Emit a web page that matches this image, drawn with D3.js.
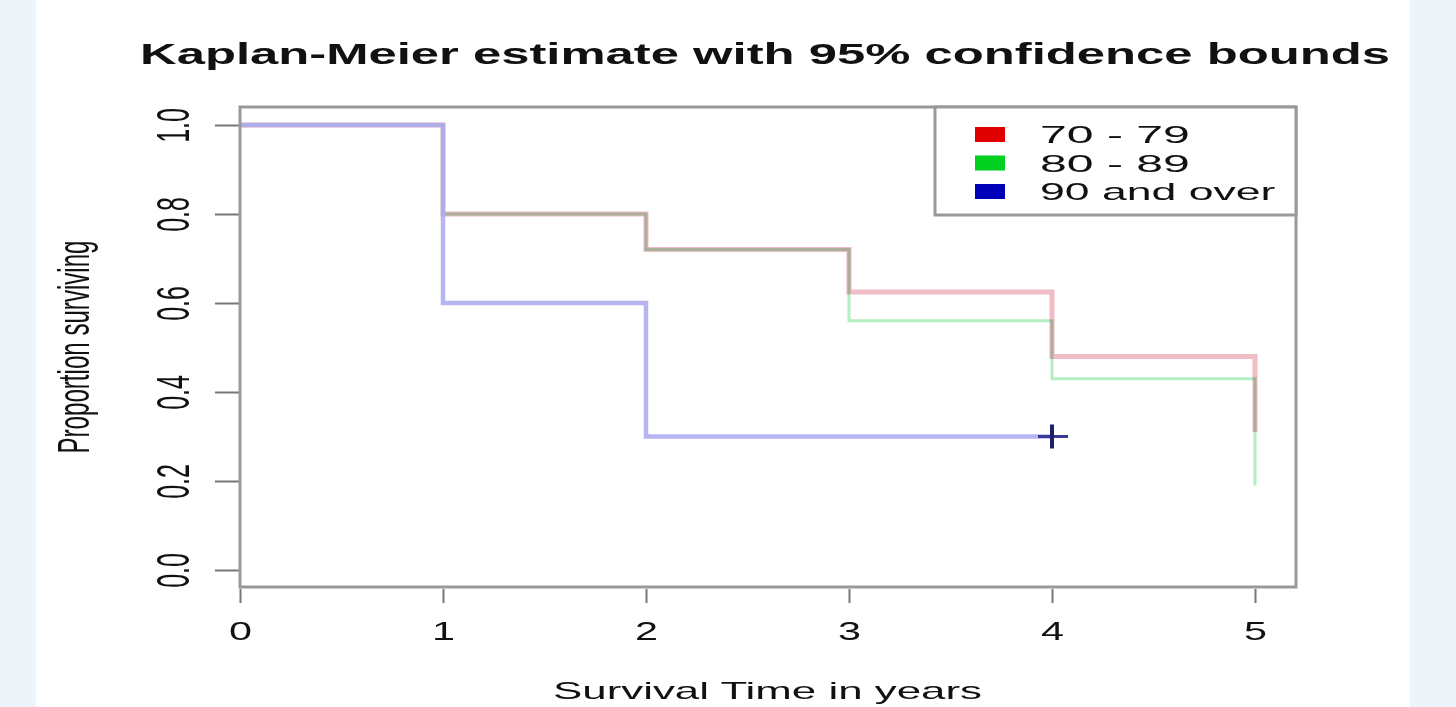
<!DOCTYPE html>
<html>
<head>
<meta charset="utf-8">
<script src="https://cdn.jsdelivr.net/npm/d3@7"></script>
<style>
  html, body { margin: 0; padding: 0; background: #eef5fa; }
  svg { display: block; font-family: "Liberation Sans", Arial, sans-serif; }
  .pair { isolation: isolate; }
  .pair path { mix-blend-mode: multiply; }
</style>
</head>
<body>
<div id="chart"></div>
<script>
// survival data
const groups = ["70 - 79", "80 - 89", "90 and over"]
const groupColors = ["#e00000", "#00d020", "#0000b8"]
const times7079 = [0, 1, 2, 3, 4, 5]
const surv7079 = [1.0, 0.8, 0.72, 0.625, 0.48, 0.31]
const times8089 = [0, 1, 2, 3, 4, 5]
const surv8089 = [1.0, 0.8, 0.72, 0.56, 0.43, 0.19]
const times90 = [0, 1, 2, 4]
const surv90 = [1.0, 0.6, 0.3, 0.3]
const censor90 = [[4, 0.3]]
const xTicks = [0, 1, 2, 3, 4, 5]
const yTicks = [0, 0.2, 0.4, 0.6, 0.8, 1.0]

const width = 1456, height = 707
const box = { left: 240, right: 1296, top: 107, bottom: 587 }
const stretch = 1.85   // the picture is stretched sideways

const svg = d3.select("#chart").append("svg")
  .attr("width", width)
  .attr("height", height)

svg.append("rect")
  .attr("x", 36).attr("y", 0)
  .attr("width", 1374).attr("height", height)
  .attr("fill", "#ffffff")

const x = d3.scaleLinear().domain([0, 5]).range([240, 1255])
const y = d3.scaleLinear().domain([0, 1]).range([570, 125])

// title
svg.append("text")
  .attr("x", 140).attr("y", 64)
  .attr("textLength", 1250).attr("lengthAdjust", "spacingAndGlyphs")
  .style("font-size", "30px").style("font-weight", "bold")
  .attr("fill", "#111")
  .text("Kaplan-Meier estimate with 95% confidence bounds")

// x axis
const xAxis = d3.axisBottom(x).tickValues(xTicks).tickSize(14).tickFormat(d3.format("d"))
const gx = svg.append("g").attr("transform", `translate(0,${box.bottom + 2})`).call(xAxis)
gx.select(".domain").remove()
gx.selectAll(".tick line").attr("stroke", "#777").attr("stroke-width", 2)
gx.selectAll(".tick text")
  .attr("y", 0).attr("dy", null)
  .attr("transform", "translate(0,51)")
  .attr("textLength", 23).attr("lengthAdjust", "spacingAndGlyphs")
  .style("font-size", "25px").attr("fill", "#111")

// y axis
const yAxis = d3.axisLeft(y).tickValues(yTicks).tickSize(25).tickFormat(d3.format(".1f"))
const gy = svg.append("g").attr("transform", `translate(${box.left},0)`).call(yAxis)
gy.select(".domain").remove()
gy.selectAll(".tick line").attr("stroke", "#777").attr("stroke-width", 2)
gy.selectAll(".tick text")
  .attr("x", null).attr("dy", null)
  .attr("text-anchor", "middle")
  .attr("transform", `translate(-51,0) scale(${stretch},1) rotate(-90)`)
  .style("font-size", "25px").attr("fill", "#111")

// axis titles
svg.append("text")
  .attr("x", 553).attr("y", 699)
  .attr("textLength", 429).attr("lengthAdjust", "spacingAndGlyphs")
  .style("font-size", "24px").attr("fill", "#111")
  .text("Survival Time in years")

svg.append("text")
  .attr("text-anchor", "middle")
  .attr("transform", `translate(89,347) scale(${stretch},1) rotate(-90)`)
  .attr("textLength", 213).attr("lengthAdjust", "spacingAndGlyphs")
  .style("font-size", "24px").attr("fill", "#111")
  .text("Proportion surviving")

// step curves
const line = d3.line()
  .x(d => x(d[0]))
  .y(d => y(d[1]))
  .curve(d3.curveStepAfter)

const pairCurves = [
  { pts: d3.zip(times7079, surv7079), color: "#f0bcc6", w: 5 },
  { pts: d3.zip(times8089, surv8089), color: "#b4eec4", w: 3 }
]

svg.append("g").attr("class", "pair").selectAll("path")
  .data(pairCurves)
  .enter()
  .append("path")
  .attr("d", d => line(d.pts))
  .attr("fill", "none")
  .attr("stroke", d => d.color)
  .attr("stroke-width", d => d.w)

svg.append("path")
  .datum(d3.zip(times90, surv90))
  .attr("d", line)
  .attr("fill", "none")
  .attr("stroke", "#aeacf0")
  .attr("stroke-opacity", 0.9)
  .attr("stroke-width", 4.5)

// censor marks
const cross = svg.append("g").selectAll("g")
  .data(censor90)
  .enter()
  .append("g")
  .attr("transform", d => `translate(${x(d[0])},${y(d[1])})`)
cross.append("line").attr("x1", -14).attr("x2", 16).attr("y1", 0).attr("y2", 0)
  .attr("stroke", "#3a3a96").attr("stroke-width", 3)
cross.append("line").attr("x1", 0).attr("x2", 0).attr("y1", -12).attr("y2", 12)
  .attr("stroke", "#20206a").attr("stroke-width", 4)

// plot frame
svg.append("rect")
  .attr("x", box.left).attr("y", box.top)
  .attr("width", box.right - box.left).attr("height", box.bottom - box.top)
  .attr("fill", "none").attr("stroke", "#999").attr("stroke-width", 3)

// legend
const legend = svg.append("g")
legend.append("rect")
  .attr("x", 935).attr("y", box.top)
  .attr("width", box.right - 935).attr("height", 108)
  .attr("fill", "#fff").attr("stroke", "#999").attr("stroke-width", 3)

const item = legend.selectAll("g.item")
  .data(groups)
  .enter()
  .append("g")
  .attr("class", "item")
  .attr("transform", (d, i) => `translate(0,${143 + i * 28.5})`)

item.append("rect")
  .attr("x", 975).attr("y", -16)
  .attr("width", 30).attr("height", 15)
  .attr("fill", (d, i) => groupColors[i])

item.append("text")
  .attr("x", 1040).attr("y", 0)
  .attr("textLength", d => d.length * 21.4)
  .attr("lengthAdjust", "spacingAndGlyphs")
  .style("font-size", "24px").attr("fill", "#111")
  .text(d => d)
</script>
</body>
</html>
